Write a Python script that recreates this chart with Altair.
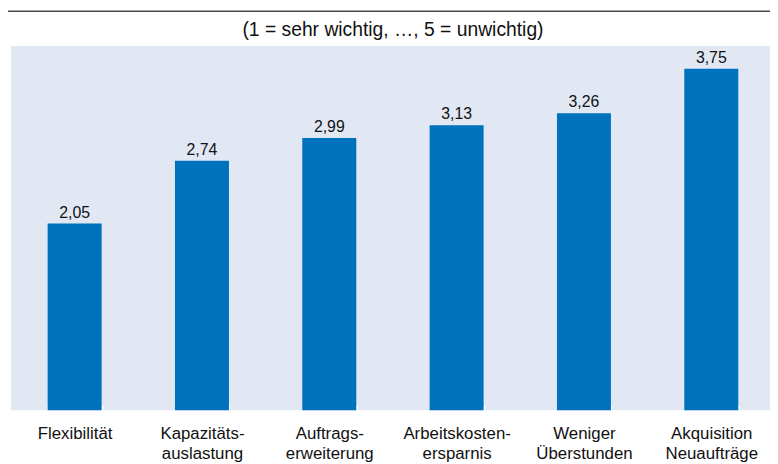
import altair as alt
import pandas as pd

categories = ["Flexibilität", "Kapazitäts-|auslastung", "Auftrags-|erweiterung",
              "Arbeitskosten-|ersparnis", "Weniger|Überstunden", "Akquisition|Neuaufträge"]
values = [2.05, 2.74, 2.99, 3.13, 3.26, 3.75]
subtitle = "(1 = sehr wichtig, …, 5 = unwichtig)"

df = pd.DataFrame({
    "cat": categories,
    "val": values,
    "lbl": [f"{v:.2f}".replace(".", ",") for v in values],
})
one = pd.DataFrame({"t": [subtitle]})

FONT = "Liberation Sans"

x = alt.X("cat:N", sort=categories, title=None,
          scale=alt.Scale(paddingInner=0.576, paddingOuter=0.288, range=[0, 772]),
          axis=alt.Axis(labelExpr="split(datum.label, '|')", labelAngle=0,
                        labelFontSize=17, labelFont=FONT, labelColor="#111111",
                        labelLineHeight=20, labelPadding=16, labelBaseline="top",
                        domain=False, ticks=True, tickBand="extent", tickColor="#ffffff",
                        tickWidth=2, tickSize=5, offset=-5, grid=False))
y = alt.Y("val:Q", title=None, scale=alt.Scale(domain=[0, 4], nice=False, zero=True),
          axis=None)

bars = alt.Chart(df).mark_bar(color="#0071BC").encode(x=x, y=y)
labels = alt.Chart(df).mark_text(baseline="alphabetic", dy=-6, fontSize=16, font=FONT,
                                 fontWeight="normal", color="#111111").encode(
    x=x, y=y, text="lbl:N")
topline = alt.Chart(one).mark_rule(color="#4a4a4a", strokeWidth=1.5).encode(
    x=alt.value(-3), x2=alt.value(767), y=alt.value(-35))
title = alt.Chart(one).mark_text(fontSize=19.5, font=FONT, fontWeight="normal",
                                 color="#111111", baseline="alphabetic",
                                 align="center").encode(
    x=alt.value(386), y=alt.value(-10), text="t:N")

chart = (bars + labels + topline + title).properties(
    width=767, height=368,
    autosize=alt.AutoSizeParams(type="none"),
    padding={"left": 3, "top": 36, "right": 0, "bottom": 52},
    background="#ffffff",
).configure_view(fill="#E1E8F4", stroke=None)

chart.save("out.html", embed_options={"renderer": "svg", "actions": False})
